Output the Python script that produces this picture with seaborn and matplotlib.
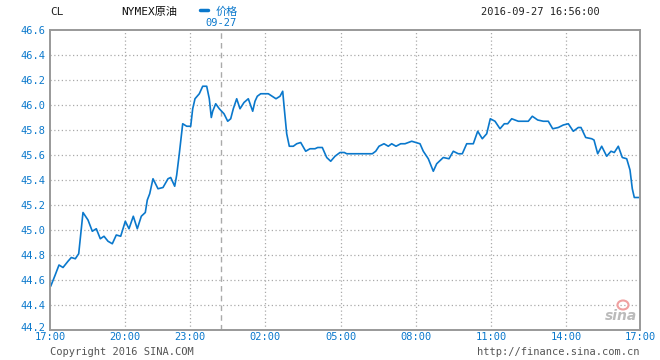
import numpy as np
import pandas as pd
import matplotlib
matplotlib.use("Agg")
import matplotlib.pyplot as plt
import matplotlib.transforms as mtrans
import seaborn as sns

sns.set_theme(style="white")
plt.rcParams["font.family"] = ["DejaVu Sans Mono", "Noto Sans CJK SC"]

BLUE = "#0A78CC"
GRID = "#AAAAAA"

# position along the session axis (0 = 17:00, 590 = 17:00 next day) and price
pos = [0.7, 4.7, 9, 13, 18, 21.3, 25.3, 28.7, 30.3, 33, 38, 42.3, 46.3, 50.3, 54, 58,
       62.3, 66.3, 70.7, 75.3, 79, 83.3, 87.3, 91.3, 95.3, 97.3, 99.7, 103, 108, 113,
       118, 120.7, 124.7, 126.7, 129.3, 132.7, 136.7, 140.7, 142.7, 145, 149.3, 152.7,
       156.7, 159.3, 161.3, 162.7, 165.7, 169.3, 174, 177.7, 180.7, 183.3, 186.7, 190,
       194, 198.3, 202.7, 205, 207.3, 210.7, 218.3, 226, 230, 232.7, 234.3, 236.7,
       239.3, 243.3, 246.7, 250.7, 255.7, 260, 265, 267.7, 272.3, 276.7, 280.7, 285,
       290, 294.3, 296.7, 322.3, 325.7, 329, 334, 338.3, 341.7, 346, 350.7, 355,
       361.7, 370, 373.3, 378.3, 383.3, 386.7, 393.3, 399, 403.3, 408.3, 412.3, 416.7,
       423.3, 427.7, 432.3, 436.7, 440.3, 445, 450, 454.3, 457.7, 461.7, 468.3, 478.3,
       482.3, 487.7, 493.3, 498.3, 502.7, 508.3, 513.3, 518.3, 523.3, 528.3, 531,
       535.7, 541.7, 544, 547.7, 551.7, 556.7, 561, 564.3, 568.3, 572.3, 576.7, 580,
       582.3, 584.3, 589]
price = [44.55, 44.63, 44.72, 44.70, 44.75, 44.78, 44.77, 44.81, 44.93, 45.14, 45.08,
         44.99, 45.01, 44.93, 44.95, 44.91, 44.89, 44.96, 44.95, 45.07, 45.01, 45.11,
         45.01, 45.11, 45.14, 45.24, 45.29, 45.41, 45.33, 45.34, 45.41, 45.42, 45.35,
         45.44, 45.61, 45.85, 45.83, 45.83, 45.97, 46.05, 46.09, 46.15, 46.15, 46.05,
         45.90, 45.95, 46.01, 45.97, 45.93, 45.87, 45.89, 45.97, 46.05, 45.97, 46.02,
         46.05, 45.95, 46.03, 46.07, 46.09, 46.09, 46.05, 46.07, 46.11, 45.97, 45.77,
         45.67, 45.67, 45.69, 45.70, 45.63, 45.65, 45.65, 45.66, 45.66, 45.58, 45.55,
         45.59, 45.62, 45.62, 45.61, 45.61, 45.63, 45.67, 45.69, 45.67, 45.69, 45.67,
         45.69, 45.69, 45.71, 45.69, 45.63, 45.57, 45.47, 45.53, 45.58, 45.57, 45.63,
         45.61, 45.61, 45.69, 45.69, 45.79, 45.73, 45.77, 45.89, 45.87, 45.81, 45.85,
         45.85, 45.89, 45.87, 45.87, 45.91, 45.88, 45.87, 45.87, 45.81, 45.82, 45.84,
         45.85, 45.79, 45.82, 45.82, 45.74, 45.73, 45.72, 45.61, 45.67, 45.59, 45.63,
         45.62, 45.67, 45.58, 45.57, 45.48, 45.33, 45.26, 45.26]

tick_pos = [0, 75, 140, 215, 291, 366, 441, 516, 590]
tick_labels = ["17:00", "20:00", "23:00", "02:00", "05:00", "08:00", "11:00", "14:00", "17:00"]
y_ticks = [44.2, 44.4, 44.6, 44.8, 45.0, 45.2, 45.4, 45.6, 45.8, 46.0, 46.2, 46.4, 46.6]
day_break = 171

df = pd.DataFrame({"pos": pos, "price": price})

fig = plt.figure(figsize=(6.6, 3.6), dpi=100)
ax = fig.add_axes([50 / 660, 30 / 360, 590 / 660, 300 / 360])

for y in y_ticks[1:-1]:
    ax.axhline(y, color=GRID, lw=0.9, ls=(0, (1, 2)), zorder=0)
for x in tick_pos[1:-1]:
    ax.axvline(x, color=GRID, lw=0.9, ls=(0, (1, 2)), zorder=0)
ax.axvline(day_break, color=GRID, lw=1.0, ls=(0, (4, 3)), zorder=0)

sns.lineplot(data=df, x="pos", y="price", ax=ax, color=BLUE, lw=1.2, estimator=None)

ax.set_xlim(0, 590)
ax.set_ylim(44.2, 46.6)
ax.set_xticks(tick_pos)
ax.set_xticklabels(tick_labels)
ax.set_yticks(y_ticks)
ax.set_yticklabels([f"{v:.1f}" for v in y_ticks])
ax.tick_params(axis="both", length=0, labelsize=7.5, colors=BLUE, pad=3)
ax.tick_params(axis="x", pad=1.5)
ax.set_xlabel("")
ax.set_ylabel("")
for s in ax.spines.values():
    s.set_color("#999999")
    s.set_linewidth(1.4)

# lift the lowest price label a little so it clears the first time label
low = ax.get_yticklabels()[0]
low.set_transform(low.get_transform() + mtrans.ScaledTranslation(0, 3 / 100, fig.dpi_scale_trans))

fig.text(50 / 660, 1 - 12 / 360, "CL", fontsize=8, color="#222222", va="center")
fig.text(121 / 660, 1 - 12 / 360, "NYMEX原油", fontsize=8, color="#111111", va="center")
fig.lines.append(plt.Line2D([200 / 660, 208 / 660], [1 - 10 / 360, 1 - 10 / 360],
                            transform=fig.transFigure, color=BLUE, lw=2.5))
fig.text(216 / 660, 1 - 12 / 360, "价格", fontsize=8, color=BLUE, va="center")
fig.text(205 / 660, 1 - 23 / 360, "09-27", fontsize=7.5, color=BLUE, va="center")
fig.text(600 / 660, 1 - 12 / 360, "2016-09-27 16:56:00", fontsize=7.5, color="#222222",
         va="center", ha="right")
fig.text(50 / 660, 1 - 352 / 360, "Copyright 2016 SINA.COM", fontsize=7.5, color="#555555",
         va="center")
fig.text(640 / 660, 1 - 352 / 360, "http://finance.sina.com.cn", fontsize=7.5,
         color="#555555", va="center", ha="right")

# sina watermark
fig.text(637 / 660, 1 - 316 / 360, "sina", fontsize=10, color="#BBBBBB", style="italic",
         fontweight="bold", ha="right", va="center", family="DejaVu Sans")
fig.patches.append(matplotlib.patches.Ellipse((623 / 660, 1 - 305 / 360), 11 / 660, 9 / 360,
                                              transform=fig.transFigure, fill=False,
                                              edgecolor="#F0A0A0", lw=1.5))

fig.savefig("out.png", dpi=100)
